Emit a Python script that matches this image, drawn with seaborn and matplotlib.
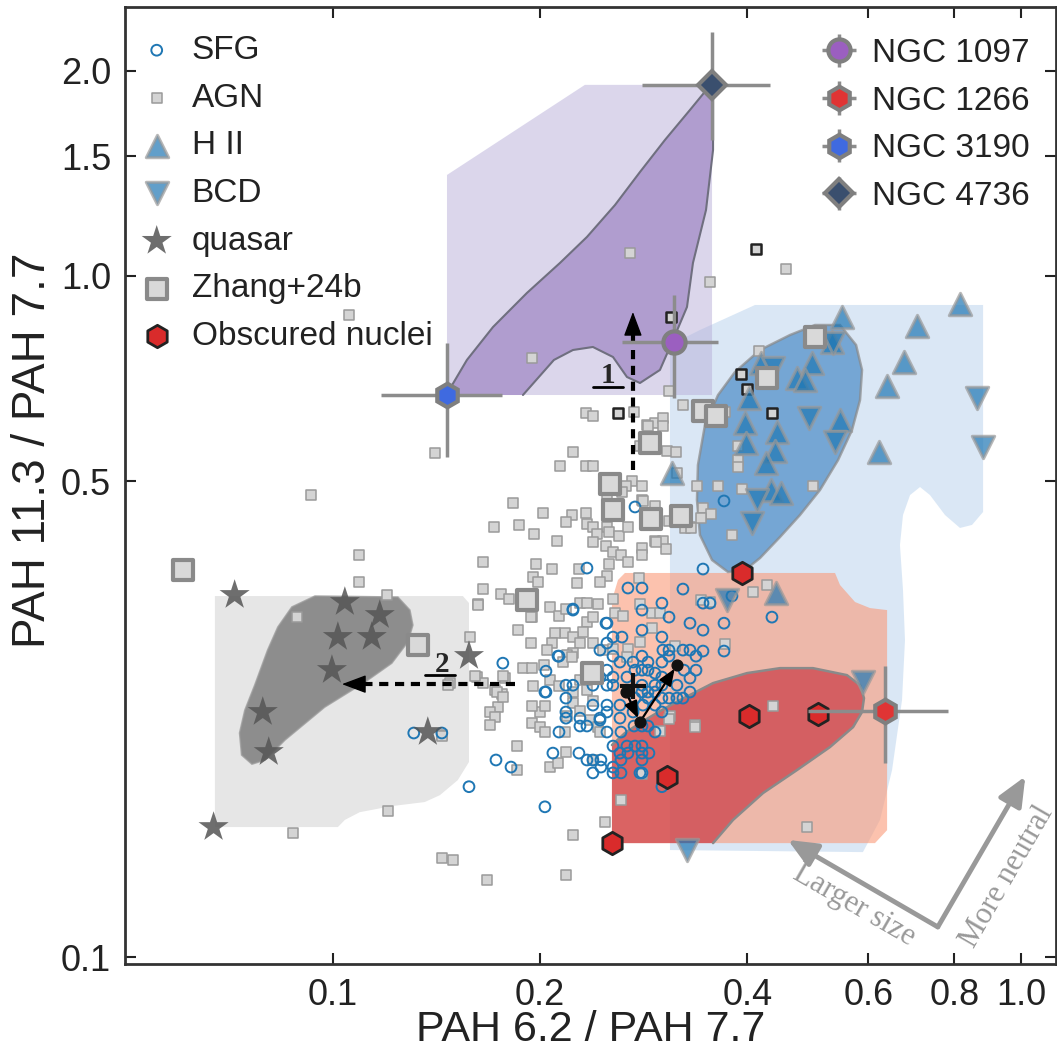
import numpy as np
import matplotlib
matplotlib.use("Agg")
import matplotlib.pyplot as plt
import seaborn as sns

sns.set_style("ticks")
plt.rcParams['font.family'] = ['Liberation Sans', 'DejaVu Sans']

# ---------------- data (PAH 6.2/7.7, PAH 11.3/7.7) ----------------
sfg_pts = [
    (0.2748, 0.4580), (0.3701, 0.4674), (0.2340, 0.3725), (0.3450, 0.3713), (0.2684, 0.3482),
    (0.2813, 0.3482), (0.3226, 0.3470), (0.2233, 0.3232), (0.2813, 0.3232), (0.3007, 0.3309),
    (0.3079, 0.3156), (0.3450, 0.3309), (0.3532, 0.3309), (0.3801, 0.3390), (0.4345, 0.3156),
    (0.2502, 0.3092), (0.2813, 0.3020), (0.3303, 0.3092), (0.3450, 0.3020), (0.3701, 0.3092),
    (0.3007, 0.2950), (0.2553, 0.2950), (0.2631, 0.2950), (0.2502, 0.2891), (0.2444, 0.2823),
    (0.3017, 0.2823), (0.3079, 0.2823), (0.3226, 0.2823), (0.3303, 0.2823), (0.3450, 0.2814),
    (0.3701, 0.2814), (0.2813, 0.2766), (0.2553, 0.2766), (0.3370, 0.2766), (0.2131, 0.2766),
    (0.2040, 0.2629), (0.1766, 0.2701), (0.2730, 0.2711), (0.2870, 0.2711), (0.3007, 0.2711),
    (0.3079, 0.2766), (0.2613, 0.2711), (0.2502, 0.2638), (0.2553, 0.2577), (0.2675, 0.2577),
    (0.2748, 0.2638), (0.2813, 0.2638), (0.2870, 0.2638), (0.2938, 0.2612), (0.3007, 0.2577),
    (0.3237, 0.2638), (0.3370, 0.2638), (0.3303, 0.2568), (0.2387, 0.2577), (0.2444, 0.2577),
    (0.2181, 0.2507), (0.2233, 0.2507), (0.2387, 0.2507), (0.2502, 0.2507), (0.2553, 0.2507),
    (0.2813, 0.2507), (0.2938, 0.2507), (0.3007, 0.2507), (0.3162, 0.2507), (0.2870, 0.2450),
    (0.2813, 0.2450), (0.2938, 0.2450), (0.3303, 0.2450), (0.2040, 0.2450), (0.2181, 0.2400),
    (0.2387, 0.2344), (0.2502, 0.2344), (0.2613, 0.2344), (0.2748, 0.2400), (0.2870, 0.2400),
    (0.3007, 0.2400), (0.3079, 0.2400), (0.3162, 0.2400), (0.3226, 0.2400), (0.2822, 0.2344),
    (0.2938, 0.2344), (0.3007, 0.2290), (0.2502, 0.2290), (0.2444, 0.2243), (0.2286, 0.2243),
    (0.2181, 0.2243), (0.2613, 0.2243), (0.2286, 0.2184), (0.2340, 0.2184), (0.2502, 0.2140),
    (0.2131, 0.2140), (0.2622, 0.2140), (0.2739, 0.2184), (0.2813, 0.2184), (0.2938, 0.2140),
    (0.2870, 0.2184), (0.2553, 0.2041), (0.2675, 0.2041), (0.2748, 0.2041), (0.2813, 0.2041),
    (0.2613, 0.1993), (0.2684, 0.1993), (0.2813, 0.1993), (0.2879, 0.1993), (0.2813, 0.1947),
    (0.2622, 0.1947), (0.2553, 0.1901), (0.2553, 0.1864), (0.2622, 0.1864), (0.2813, 0.1864),
    (0.3007, 0.1779), (0.2088, 0.1993), (0.2278, 0.1993), (0.2340, 0.1947), (0.2387, 0.1947),
    (0.2452, 0.1947), (0.2387, 0.1864), (0.2452, 0.1901), (0.1726, 0.1947), (0.1815, 0.1901),
    (0.2033, 0.1662), (0.2233, 0.3243), (0.2494, 0.3092), (0.2124, 0.2766), (0.2033, 0.2450),
    (0.2181, 0.2290), (0.1311, 0.2133), (0.1440, 0.2133), (0.1577, 0.1779), (0.2444, 0.2228),
    (0.2794, 0.1864), (0.2730, 0.2290),
]

agn_pts = [
    (0.1056, 0.876), (0.1407, 0.550), (0.0929, 0.477), (0.2702, 1.081), (0.1946, 0.758),
    (0.3532, 0.980), (0.4554, 1.024), (0.2232, 0.551), (0.2138, 0.526), (0.2332, 0.629),
    (0.2387, 0.623), (0.2739, 0.631), (0.3079, 0.677), (0.3226, 0.646), (0.2860, 0.604),
    (0.2938, 0.608), (0.3017, 0.618), (0.3017, 0.602), (0.2794, 0.563), (0.3058, 0.553),
    (0.3150, 0.551), (0.2332, 0.526), (0.2387, 0.526), (0.3162, 0.514), (0.2720, 0.500),
    (0.2666, 0.491), (0.2813, 0.491), (0.2502, 0.479), (0.2631, 0.481), (0.2813, 0.469),
    (0.1827, 0.464), (0.2020, 0.448), (0.2225, 0.446), (0.2181, 0.435), (0.2332, 0.448),
    (0.2340, 0.433), (0.2387, 0.428), (0.2502, 0.428), (0.2419, 0.418), (0.2519, 0.421),
    (0.2604, 0.415), (0.2684, 0.428), (0.1959, 0.418), (0.1714, 0.428), (0.1864, 0.431),
    (0.2116, 0.408), (0.2387, 0.407), (0.2494, 0.401), (0.2553, 0.393), (0.2622, 0.389),
    (0.2813, 0.399), (0.2813, 0.389), (0.2684, 0.380), (0.2938, 0.408), (0.3017, 0.408),
    (0.3048, 0.397), (0.1652, 0.380), (0.1973, 0.378), (0.2081, 0.371), (0.2278, 0.371),
    (0.2519, 0.378), (0.2502, 0.363), (0.1953, 0.362), (0.1986, 0.355), (0.2263, 0.354),
    (0.2444, 0.355), (0.2785, 0.360), (0.3381, 0.491), (0.3303, 0.428), (0.3248, 0.426),
    (0.1652, 0.347), (0.1755, 0.341), (0.1802, 0.336), (0.1625, 0.330), (0.1946, 0.316),
    (0.1858, 0.302), (0.2067, 0.327), (0.2131, 0.317), (0.2181, 0.324), (0.2286, 0.331),
    (0.2340, 0.331), (0.2428, 0.330), (0.2553, 0.336), (0.2340, 0.310), (0.2387, 0.316),
    (0.2570, 0.320), (0.2639, 0.317), (0.2794, 0.330), (0.2909, 0.320), (0.2987, 0.320),
    (0.2309, 0.300), (0.2174, 0.299), (0.2102, 0.299), (0.2233, 0.295), (0.2286, 0.289),
    (0.2081, 0.289), (0.1940, 0.289), (0.2047, 0.282), (0.2233, 0.280), (0.2190, 0.2775),
    (0.2387, 0.289), (0.2469, 0.282), (0.2553, 0.283), (0.2684, 0.283), (0.2675, 0.276),
    (0.2794, 0.290), (0.2909, 0.304), (0.3141, 0.286), (0.2160, 0.271), (0.2225, 0.276),
    (0.2026, 0.268), (0.1889, 0.266), (0.1953, 0.250), (0.1761, 0.243), (0.1720, 0.247),
    (0.1737, 0.233), (0.1691, 0.229), (0.1619, 0.258), (0.1582, 0.295), (0.1778, 0.257),
    (0.2067, 0.255), (0.2131, 0.250), (0.2233, 0.245), (0.2286, 0.255), (0.2340, 0.247),
    (0.2387, 0.238), (0.2233, 0.236), (0.2286, 0.230), (0.2190, 0.226), (0.2000, 0.229),
    (0.2033, 0.234), (0.1946, 0.221), (0.2000, 0.218), (0.2033, 0.214), (0.2174, 0.214),
    (0.2363, 0.223), (0.2428, 0.218), (0.2444, 0.214), (0.3089, 0.226), (0.2987, 0.215),
    (0.3358, 0.219), (0.1851, 0.204), (0.1851, 0.188), (0.2067, 0.190), (0.2124, 0.193),
    (0.2181, 0.200), (0.2387, 0.195), (0.1480, 0.253), (0.1652, 0.253), (0.1720, 0.225),
    (0.1443, 0.212), (0.1091, 0.389), (0.1091, 0.355), (0.1198, 0.340), (0.0887, 0.316),
    (0.1625, 0.329), (0.1940, 0.316), (0.1608, 0.259), (0.1766, 0.259), (0.1731, 0.245),
    (0.1766, 0.241), (0.1691, 0.219), (0.1470, 0.251), (0.1443, 0.211), (0.1202, 0.164),
    (0.0875, 0.152), (0.1443, 0.1396), (0.1494, 0.1388), (0.1674, 0.1297), (0.2181, 0.1319),
    (0.1946, 0.266), (0.1946, 0.234), (0.4273, 0.352), (0.4078, 0.344), (0.3427, 0.334),
    (0.3713, 0.288), (0.4360, 0.234), (0.3358, 0.218), (0.3079, 0.224), (0.2813, 0.186),
    (0.2622, 0.170), (0.2485, 0.158), (0.2233, 0.151), (0.4885, 0.155), (0.3532, 0.332),
    (0.4161, 0.776), (0.3713, 0.631), (0.2870, 0.602), (0.3879, 0.563), (0.3879, 0.537),
    (0.3879, 0.525), (0.3628, 0.491), (0.3931, 0.487), (0.4984, 0.491), (0.3450, 0.457),
    (0.3544, 0.447), (0.3427, 0.441), (0.3314, 0.426), (0.3079, 0.437), (0.3801, 0.417),
    (0.2948, 0.407), (0.2822, 0.468), (0.2938, 0.459),
]

agn_flag_pts = [(0.4120, 1.0955), (0.3099, 0.8706), (0.3918, 0.7180),
                (0.3998, 0.6824), (0.4345, 0.6293), (0.2596, 0.6293)]

hii_x = [0.5493, 0.7059, 0.8151, 0.6758, 0.6387, 0.6219, 0.4967, 0.4725, 0.4853, 0.4190, 0.4024,
         0.3969, 0.3983, 0.4419, 0.4389, 0.4259, 0.5456, 0.4331, 0.4479, 0.5312, 0.3110, 0.4404]
hii_y = [0.8706, 0.8445, 0.9097, 0.7475, 0.6893, 0.5516, 0.7450, 0.7085, 0.7037, 0.7450, 0.6620,
         0.6083, 0.5685, 0.5901, 0.5534, 0.5314, 0.6146, 0.4850, 0.4800, 0.8000, 0.5137, 0.3424]

bcd_x = [0.5330, 0.4360, 0.4918, 0.5366, 0.4134, 0.4064, 0.8630, 0.8806, 0.3738, 0.5891, 0.3269]
bcd_y = [0.7973, 0.7326, 0.6188, 0.5705, 0.4690, 0.4338, 0.6620, 0.5609, 0.3345, 0.2533, 0.1436]

qso_x = [0.0720, 0.1041, 0.1170, 0.1017, 0.1139, 0.0997, 0.1577, 0.0791, 0.0807, 0.1374, 0.0671]
qso_y = [0.3401, 0.3321, 0.3178, 0.2951, 0.2951, 0.2639, 0.2767, 0.2290, 0.2000, 0.2140, 0.1552]

zhang_x = [0.0605, 0.1329, 0.1914, 0.2379, 0.2527, 0.2553, 0.2889, 0.2899, 0.3205, 0.3451,
           0.3604, 0.4273, 0.5019]
zhang_y = [0.3700, 0.2871, 0.3345, 0.2612, 0.4950, 0.4533, 0.5685, 0.4395, 0.4440, 0.6336,
           0.6229, 0.7085, 0.8136]

obsc_x = [0.3931, 0.4024, 0.5068, 0.3059, 0.2544]
obsc_y = [0.3664, 0.2259, 0.2274, 0.1838, 0.1470]

ngc_names = ["NGC 1097", "NGC 1266", "NGC 3190", "NGC 4736"]
ngc_x = [0.3131, 0.6343, 0.1465, 0.3556]
ngc_y = [0.800, 0.2297, 0.6687, 1.908]
ngc_xlo = [0.2630, 0.4901, 0.1174, 0.2812]
ngc_xhi = [0.3627, 0.7831, 0.1760, 0.4317]
ngc_ylo = [0.662, 0.1927, 0.542, 1.584]
ngc_yhi = [0.938, 0.2676, 0.797, 2.282]
ngc_marker = ["o", "h", "h", "D"]
ngc_color = ["#9b5fc0", "#e03434", "#3f6ae0", "#3a4f6e"]
ngc_ms = [16, 17, 17, 14]

# region outlines (data units)
reg_lav = [(0.1465, 0.6687), (0.1465, 1.407), (0.2324, 1.908), (0.3556, 1.908), (0.3556, 0.6687)]
reg_purple = [(0.1470, 0.6755), (0.1566, 0.7528), (0.1709, 0.8415), (0.1914, 0.9441), (0.2138, 1.045),
              (0.2340, 1.141), (0.2570, 1.271), (0.2794, 1.421), (0.3038, 1.584), (0.3303, 1.753),
              (0.3508, 1.888), (0.3568, 1.813), (0.3568, 1.531), (0.3485, 1.250), (0.3336, 1.045),
              (0.3270, 0.9004), (0.3120, 0.805), (0.2987, 0.7278), (0.2794, 0.6964), (0.2675, 0.7107),
              (0.2553, 0.7604), (0.2387, 0.7866), (0.2233, 0.7786), (0.2095, 0.7528), (0.1889, 0.6687),
              (0.1470, 0.6687)]
reg_lightblue = [(0.3089, 0.1436), (0.3089, 0.7919), (0.3415, 0.8331), (0.4106, 0.9066), (0.8806, 0.9066),
                 (0.8806, 0.4503), (0.8486, 0.4310), (0.8151, 0.4266), (0.7752, 0.4457), (0.7372, 0.4768),
                 (0.7131, 0.4899), (0.6897, 0.4768), (0.6736, 0.4457), (0.6668, 0.4027), (0.6736, 0.3458),
                 (0.6781, 0.2920), (0.6714, 0.2384), (0.6494, 0.1882), (0.6237, 0.1590), (0.5891, 0.1426)]
reg_blue = [(0.5456, 0.8472), (0.5757, 0.7919), (0.5873, 0.7278), (0.5834, 0.6575), (0.5679, 0.5940),
            (0.5420, 0.5366), (0.5102, 0.4850), (0.4772, 0.4457), (0.4463, 0.4137), (0.4175, 0.3854),
            (0.3970, 0.3700), (0.3751, 0.3676), (0.3556, 0.3828), (0.3415, 0.4166), (0.3381, 0.4690),
            (0.3392, 0.5277), (0.3473, 0.6042), (0.3628, 0.6687), (0.3840, 0.7229), (0.4175, 0.7786),
            (0.4615, 0.8190), (0.5018, 0.8472)]
reg_salmon = [(0.2544, 0.1470), (0.2544, 0.3343), (0.2596, 0.3578), (0.2657, 0.3664), (0.5366, 0.3664),
              (0.5456, 0.3518), (0.5738, 0.3321), (0.6032, 0.3254), (0.6387, 0.3232), (0.6387, 0.1536),
              (0.6133, 0.1470)]
reg_red = [(0.2544, 0.1470), (0.2544, 0.2048), (0.2657, 0.2133), (0.2794, 0.2206), (0.2987, 0.2297),
           (0.3194, 0.2384), (0.3568, 0.2525), (0.3998, 0.2612), (0.4463, 0.2656), (0.4984, 0.2656),
           (0.5584, 0.2594), (0.5834, 0.2507), (0.5912, 0.2400), (0.5873, 0.2290), (0.5700, 0.2176),
           (0.5276, 0.2034), (0.4725, 0.1882), (0.4217, 0.1741), (0.3815, 0.1590), (0.3568, 0.1470)]
reg_lightgray = [(0.0674, 0.3389), (0.1545, 0.3389), (0.1577, 0.3310), (0.1577, 0.1934), (0.1519, 0.1819),
                 (0.1431, 0.1729), (0.1360, 0.1689), (0.1218, 0.1666), (0.1094, 0.1632), (0.1041, 0.1590),
                 (0.1017, 0.1552), (0.0674, 0.1552)]
reg_gray = [(0.0942, 0.3389), (0.1243, 0.3377), (0.1294, 0.3232), (0.1307, 0.3072), (0.1285, 0.2901),
            (0.1218, 0.2701), (0.1113, 0.2533), (0.0973, 0.2328), (0.0852, 0.2083), (0.0797, 0.1947),
            (0.0763, 0.1920), (0.0737, 0.1980), (0.0732, 0.2133), (0.0745, 0.2304), (0.0770, 0.2507),
            (0.0804, 0.2823), (0.0832, 0.3052), (0.0872, 0.3266)]

# annotation anchors (data units)
arrow1_start, arrow1_end = (0.2729, 0.5188), (0.2729, 0.8855)
arrow2_start, arrow2_end = (0.1839, 0.2516), (0.1031, 0.2516)
track_x = [0.2666, 0.2794, 0.3162]
track_y = [0.2449, 0.2214, 0.2683]
plus_pt = (0.2729, 0.2499)

# ---------------- figure ----------------
fig = plt.figure(figsize=(10.57, 10.51), dpi=100)
ax = fig.add_axes([0.1183, 0.0828, 0.8808, 0.9106])
ax.set_xscale("log")
ax.set_yscale("log")


def fill_region(pts, **kw):
    xs, ys = zip(*pts)
    return ax.fill(xs, ys, **kw)


fill_region(reg_lightblue, color="#bcd5ee", alpha=0.55, lw=0, zorder=1)
fill_region(reg_lav, color="#b8afd9", alpha=0.5, lw=0, zorder=1.1)
fill_region(reg_salmon, color="#fa9a78", alpha=0.6, lw=0, zorder=1.2)
fill_region(reg_lightgray, color="#e6e6e6", lw=0, zorder=1.1)

fill_region(reg_purple, color="#a28ac6", alpha=0.75, lw=0, zorder=2)
px_, py_ = zip(*reg_purple[:-1])
ax.plot(px_, py_, color="#6f6f7f", lw=1.5, zorder=2.1)
fill_region(reg_blue, facecolor="#4a8bc6", alpha=0.7, edgecolor="#888888", lw=1.8, zorder=2)
fill_region(reg_red, color="#c8303c", alpha=0.65, lw=0, zorder=2)
rx_, ry_ = zip(*reg_red[1:])
ax.plot(rx_, ry_, color="#8a8a8a", lw=1.8, zorder=2.1)
fill_region(reg_gray, facecolor="#707070", alpha=0.75, edgecolor="#999999", lw=1.2, zorder=2)

agn_x, agn_y = np.array(agn_pts).T
sfg_x, sfg_y = np.array(sfg_pts).T
fl_x, fl_y = np.array(agn_flag_pts).T

sns.scatterplot(x=agn_x, y=agn_y, ax=ax, marker="s", s=55, color="#d4d4d4",
                edgecolor="#9a9a9a", linewidth=1.1, zorder=3, label="AGN")
sns.scatterplot(x=fl_x, y=fl_y, ax=ax, marker="s", s=60, color="#d4d4d4",
                edgecolor="#222222", linewidth=1.8, zorder=5)
sns.scatterplot(x=sfg_x, y=sfg_y, ax=ax, marker="o", s=60, facecolor="none",
                edgecolor="#1f77b4", linewidth=1.4, zorder=4, label="SFG")
sns.scatterplot(x=hii_x, y=hii_y, ax=ax, marker="^", s=260, color="#1f77b4", alpha=0.7,
                edgecolor="#999999", linewidth=2.2, zorder=5, label="H II")
sns.scatterplot(x=bcd_x, y=bcd_y, ax=ax, marker="v", s=260, color="#1f77b4", alpha=0.7,
                edgecolor="#999999", linewidth=2.2, zorder=5, label="BCD")
sns.scatterplot(x=qso_x, y=qso_y, ax=ax, marker="*", s=520, color="#555555", alpha=0.85,
                edgecolor="none", linewidth=0, zorder=6, label="quasar")
sns.scatterplot(x=zhang_x, y=zhang_y, ax=ax, marker="s", s=190, color="#d9d9d9",
                edgecolor="#8a8a8a", linewidth=3, zorder=6, label="Zhang+24b")
sns.scatterplot(x=obsc_x, y=obsc_y, ax=ax, marker="h", s=260, color="#d92b2b",
                edgecolor="#222222", linewidth=2, zorder=7, label="Obscured nuclei")

ngc_handles = []
for i, name in enumerate(ngc_names):
    xe = [[ngc_x[i] - ngc_xlo[i]], [ngc_xhi[i] - ngc_x[i]]]
    ye = [[ngc_y[i] - ngc_ylo[i]], [ngc_yhi[i] - ngc_y[i]]]
    h = ax.errorbar([ngc_x[i]], [ngc_y[i]], xerr=xe, yerr=ye, fmt=ngc_marker[i],
                    ms=ngc_ms[i], mfc=ngc_color[i], mec="#7f7f7f", mew=3,
                    ecolor="#8c8c8c", elinewidth=2.5, capsize=0, zorder=9, label=name)
    ngc_handles.append(h)

# arrows 1 and 2 (dashed)
head = "-|>,head_length=0.8,head_width=0.3"
ax.plot([arrow1_start[0], arrow1_end[0]], [arrow1_start[1], arrow1_end[1] * 0.96],
        ls=(0, (2.2, 1.6)), color="k", lw=3, zorder=8)
ax.annotate("", xy=arrow1_end, xytext=(arrow1_end[0], arrow1_end[1] * 0.95),
            arrowprops=dict(arrowstyle=head, color="k", lw=1, mutation_scale=19,
                            shrinkA=0, shrinkB=0), zorder=8)
ax.plot([arrow2_start[0], arrow2_end[0] * 1.05], [arrow2_start[1], arrow2_end[1]],
        ls=(0, (2.2, 1.6)), color="k", lw=3, zorder=8)
ax.annotate("", xy=arrow2_end, xytext=(arrow2_end[0] * 1.07, arrow2_end[1]),
            arrowprops=dict(arrowstyle=head, color="k", lw=1, mutation_scale=19,
                            shrinkA=0, shrinkB=0), zorder=8)
ax.text(0.2510, 0.7154, "1", family="Liberation Serif", weight="bold", fontsize=21,
        ha="center", va="center", zorder=8)
ax.plot([0.2387, 0.2639], [0.6871, 0.6871], color="k", lw=2, zorder=8)
ax.text(0.1440, 0.2692, "2", family="Liberation Serif", weight="bold", fontsize=21,
        ha="center", va="center", zorder=8)
ax.plot([0.1360, 0.1504], [0.2594, 0.2594], color="k", lw=2, zorder=8)

# track arrows and plus sign
for i in range(len(track_x) - 1):
    ax.annotate("", xy=(track_x[i + 1], track_y[i + 1]), xytext=(track_x[i], track_y[i]),
                arrowprops=dict(arrowstyle="-|>,head_length=0.5,head_width=0.2", color="k",
                                lw=1.6, mutation_scale=20, shrinkA=3, shrinkB=3), zorder=8)
ax.scatter(track_x, track_y, s=60, color="#111111", zorder=8.5)
ax.scatter([plus_pt[0]], [plus_pt[1]], marker="+", s=330, color="#111111", linewidths=3, zorder=8.5)

# grey direction arrows
vertex = (0.873, 0.0387)
ax.annotate("", xy=(0.712, 0.1296), xytext=vertex, xycoords="axes fraction",
            textcoords="axes fraction",
            arrowprops=dict(arrowstyle="-|>,head_length=0.8,head_width=0.35", color="#999999",
                            lw=3.5, mutation_scale=22, shrinkA=0, shrinkB=0))
ax.annotate("", xy=(0.967, 0.196), xytext=vertex, xycoords="axes fraction",
            textcoords="axes fraction",
            arrowprops=dict(arrowstyle="-|>,head_length=0.8,head_width=0.35", color="#999999",
                            lw=3.5, mutation_scale=22, shrinkA=0, shrinkB=0))
ax.text(0.783, 0.061, "Larger size", transform=ax.transAxes, rotation=-30,
        family="Liberation Serif", fontsize=22, color="#999999", ha="center", va="center",
        rotation_mode="anchor")
ax.text(0.947, 0.091, "More neutral", transform=ax.transAxes, rotation=60,
        family="Liberation Serif", fontsize=22, color="#999999", ha="center", va="center",
        rotation_mode="anchor")

# axes styling
ax.set_xlim(0.0499, 1.124)
ax.set_ylim(0.0977, 2.483)
xt = [0.1, 0.2, 0.4, 0.6, 0.8, 1.0]
yt = [0.1, 0.5, 1.0, 1.5, 2.0]
ax.set_xticks(xt)
ax.set_xticklabels(["0.1", "0.2", "0.4", "0.6", "0.8", "1.0"])
ax.set_yticks(yt)
ax.set_yticklabels(["0.1", "0.5", "1.0", "1.5", "2.0"])
ax.minorticks_off()
ax.tick_params(which="both", direction="in", top=True, right=True, length=8, width=1.5,
               labelsize=26, colors="#222222", pad=10)
for sp in ax.spines.values():
    sp.set_linewidth(2)
    sp.set_color("#333333")
ax.set_xlabel("PAH 6.2 / PAH 7.7", fontsize=31, color="#222222", labelpad=-2)
ax.set_ylabel("PAH 11.3 / PAH 7.7", fontsize=33, color="#222222")
ax.yaxis.set_label_coords(-0.075, 0.537)

handles, labels = ax.get_legend_handles_labels()
hmap = dict(zip(labels, handles))
order = ["SFG", "AGN", "H II", "BCD", "quasar", "Zhang+24b", "Obscured nuclei"]
leg1 = ax.legend([hmap[k] for k in order], order, loc="upper left",
                 bbox_to_anchor=(0.0, 0.9864), fontsize=24,
                 frameon=False, handlelength=1.0, handletextpad=0.55, borderaxespad=0.0,
                 borderpad=0.45, labelspacing=0.50, scatterpoints=1)
for t in leg1.get_texts():
    t.set_color("#222222")
ax.add_artist(leg1)
leg2 = ax.legend(ngc_handles, ngc_names, loc="upper right", bbox_to_anchor=(1.0, 0.9948),
                 fontsize=24, frameon=False,
                 handlelength=1.0, handletextpad=0.5, borderaxespad=0.28, borderpad=0.5,
                 labelspacing=0.50)
for t in leg2.get_texts():
    t.set_color("#222222")

fig.savefig("out.png", dpi=100)
